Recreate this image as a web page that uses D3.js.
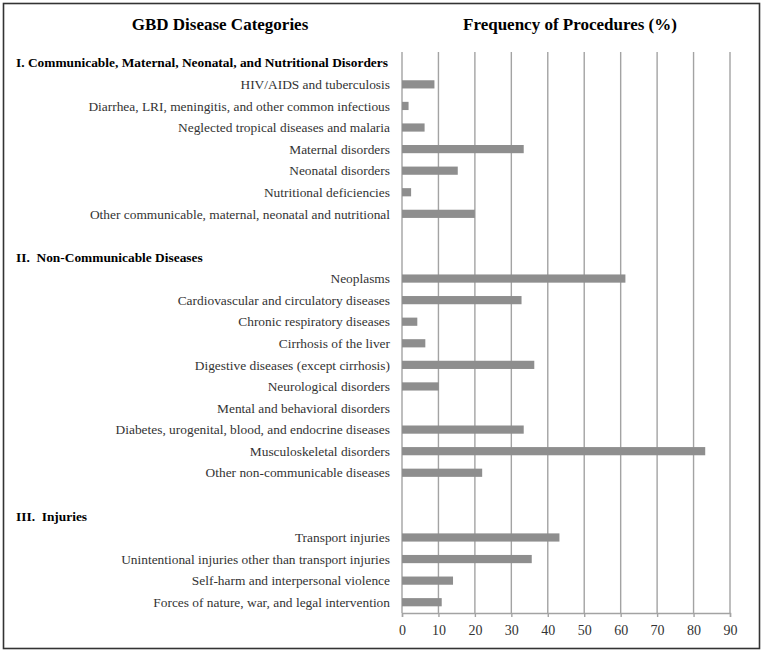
<!DOCTYPE html>
<html>
<head>
<meta charset="utf-8">
<script src="https://cdn.jsdelivr.net/npm/d3@7"></script>
<style>
  body { margin: 0; background: #fff; }
  svg text { font-family: "Liberation Serif", "Times New Roman", serif; }
</style>
</head>
<body>
<script>
// row labels, in order from top to bottom ('' = empty spacer row)
const categories = [
  'I. Communicable, Maternal, Neonatal, and Nutritional Disorders',
  'HIV/AIDS and tuberculosis',
  'Diarrhea, LRI, meningitis, and other common infectious',
  'Neglected tropical diseases and malaria',
  'Maternal disorders',
  'Neonatal disorders',
  'Nutritional deficiencies',
  'Other communicable, maternal, neonatal and nutritional',
  '',
  'II.  Non-Communicable Diseases',
  'Neoplasms',
  'Cardiovascular and circulatory diseases',
  'Chronic respiratory diseases',
  'Cirrhosis of the liver',
  'Digestive diseases (except cirrhosis)',
  'Neurological disorders',
  'Mental and behavioral disorders',
  'Diabetes, urogenital, blood, and endocrine diseases',
  'Musculoskeletal disorders',
  'Other non-communicable diseases',
  '',
  'III.  Injuries',
  'Transport injuries',
  'Unintentional injuries other than transport injuries',
  'Self-harm and interpersonal violence',
  'Forces of nature, war, and legal intervention'
];

// group headings (drawn bold, left aligned)
const headers = [
  'I. Communicable, Maternal, Neonatal, and Nutritional Disorders',
  'II.  Non-Communicable Diseases',
  'III.  Injuries'
];

// frequency of procedures (%), null for headings / spacer rows
const values = [
  null, 8.9, 1.8, 6.2, 33.4, 15.3, 2.5, 20.0,
  null,
  null, 61.3, 32.8, 4.2, 6.4, 36.3, 10.1, 0, 33.4, 83.2, 22.0,
  null,
  null, 43.2, 35.6, 14.0, 10.9
];

const xTicks = [0, 10, 20, 30, 40, 50, 60, 70, 80, 90];

const W = 764, H = 654;
const svg = d3.select('body').append('svg')
  .attr('width', W)
  .attr('height', H);

// outer frame
svg.append('rect')
  .attr('x', 3.5).attr('y', 3.5)
  .attr('width', 756).attr('height', 645)
  .attr('fill', 'none')
  .attr('stroke', '#333')
  .attr('stroke-width', 1.6);

const x = d3.scaleLinear().domain([0, 90]).range([402, 730]);
const y = d3.scaleBand()
  .domain(d3.range(categories.length))
  .range([52, 613])
  .paddingInner(0.62)
  .paddingOuter(0.31);

// column titles
svg.append('text')
  .attr('x', 220).attr('y', 30)
  .attr('text-anchor', 'middle')
  .style('font-size', '17px')
  .style('font-weight', 'bold')
  .text('GBD Disease Categories');

svg.append('text')
  .attr('x', 570).attr('y', 30)
  .attr('text-anchor', 'middle')
  .style('font-size', '17px')
  .style('font-weight', 'bold')
  .text('Frequency of Procedures (%)');

// vertical gridlines
svg.append('g')
  .selectAll('line')
  .data(xTicks)
  .enter().append('line')
  .attr('x1', d => x(d)).attr('x2', d => x(d))
  .attr('y1', 52).attr('y2', 613)
  .attr('stroke', '#a3a3a3')
  .attr('stroke-width', 1.4);

// bars
svg.append('g')
  .selectAll('rect')
  .data(values.map((v, i) => ({ v, i })).filter(d => d.v !== null && d.v > 0))
  .enter().append('rect')
  .attr('x', x(0))
  .attr('y', d => y(d.i))
  .attr('width', d => x(d.v) - x(0))
  .attr('height', y.bandwidth())
  .attr('fill', '#8e8e8e');

// x axis
const xAxis = svg.append('g')
  .attr('transform', 'translate(0,613)')
  .call(d3.axisBottom(x).tickValues(xTicks).tickSize(4).tickPadding(8));
xAxis.select('.domain').attr('stroke', '#a3a3a3').attr('stroke-width', 1.4);
xAxis.selectAll('.tick line').attr('stroke', '#a3a3a3').attr('stroke-width', 1.4);
xAxis.selectAll('.tick text')
  .style('font-family', '"Liberation Serif", serif')
  .style('font-size', '14px')
  .attr('fill', '#333');

// row labels
svg.append('g')
  .selectAll('text')
  .data(categories.map((c, i) => ({ c, i })).filter(d => d.c !== ''))
  .enter().append('text')
  .attr('x', d => headers.includes(d.c) ? 16 : 390)
  .attr('y', d => y(d.i) + y.bandwidth() / 2)
  .attr('dy', '0.35em')
  .attr('text-anchor', d => headers.includes(d.c) ? 'start' : 'end')
  .style('white-space', 'pre')
  .style('font-size', '13.4px')
  .style('font-weight', d => headers.includes(d.c) ? 'bold' : 'normal')
  .attr('fill', d => headers.includes(d.c) ? '#000' : '#333')
  .text(d => d.c);
</script>
</body>
</html>
